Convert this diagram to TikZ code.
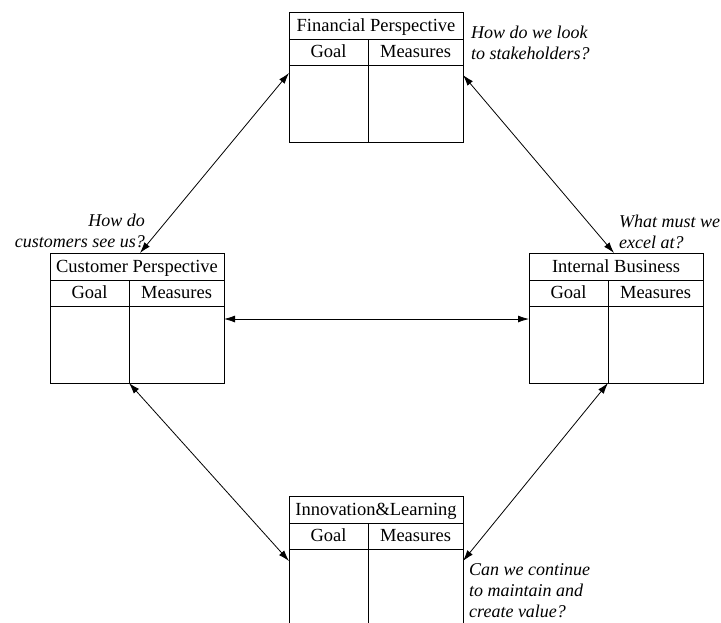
\documentclass[tikz,border=0pt]{standalone}
\usepackage{fontspec}
\setmainfont{Liberation Serif}
\usetikzlibrary{arrows.meta,calc}
\newcommand{\perspbox}[4]{%
  \node[box] (#1) at (#2,#3) {};
  \draw[boxline] ($(#1.north west)+(0,27)$) -- ($(#1.north east)+(0,27)$);
  \draw[boxline] ($(#1.north west)+(0,53)$) -- ($(#1.north east)+(0,53)$);
  \draw[boxline] ($(#1.north west)+(79,27)$) -- ($(#1.south west)+(79,0)$);
  \node[ttl] (#1-t) at ($(#1.north west)+(87,19.5)$) {#4};
  \node[ttl] (#1-g) at ($(#1.north west)+(39.5,45.5)$) {Goal};
  \node[ttl] (#1-m) at ($(#1.north west)+(126.5,45.5)$) {Measures};
}
\begin{document}
\begin{tikzpicture}[x=1pt,y=-1pt,
  boxline/.style={line width=1pt},
  box/.style={draw,line width=1pt,minimum width=174pt,minimum height=130pt,inner sep=0pt,outer sep=0pt,anchor=north west},
  ttl/.style={font=\fontsize{18.5}{22}\selectfont,inner sep=0pt,anchor=base},
  lbl/.style={font=\fontsize{18}{21}\selectfont\itshape,inner sep=0pt},
  link/.style={line width=0.8pt,{Latex[length=11pt,width=7pt]}-{Latex[length=11pt,width=7pt]}}]
\useasboundingbox (0,0) rectangle (721,622);
\clip (0,0) rectangle (721,622);
\perspbox{fin}{289}{12}{Financial Perspective}
\perspbox{cust}{50}{253}{Customer Perspective}
\perspbox{int}{529}{253}{Internal Business}
\perspbox{inn}{289}{496}{Innovation\&Learning}
% connector end points
\coordinate (finL) at ($(fin.north west)+(0,61)$);
\coordinate (finR) at ($(fin.north east)+(0,63)$);
\coordinate (custT) at ($(cust.north west)+(90,0)$);
\coordinate (custR) at ($(cust.north east)+(0,66)$);
\coordinate (custB) at ($(cust.south west)+(79,0)$);
\coordinate (intT) at ($(int.north west)+(85,0)$);
\coordinate (intL) at ($(int.north west)+(0,66)$);
\coordinate (intB) at ($(int.south west)+(79,0)$);
\coordinate (innL) at ($(inn.north west)+(0,65)$);
\coordinate (innR) at ($(inn.north east)+(0,65)$);
\draw[link] (finL) -- (custT);
\draw[link] (finR) -- (intT);
\draw[link] (custR) -- (intL);
\draw[link] (custB) -- (innL);
\draw[link] (intB) -- (innR);
% questions
\node[lbl,align=left,anchor=north west] (qfin) at (471,25.7) {How do we look\\to stakeholders?};
\node[lbl,align=right,anchor=north east] (qcust) at (145,213.7) {How do\\customers see us?};
\node[lbl,align=left,anchor=north west] (qint) at (619,214.7) {What must we\\excel at?};
\node[lbl,align=left,anchor=north west] (qinn) at (469,563.7) {Can we continue\\to maintain and\\create value?};
\end{tikzpicture}
\end{document}
